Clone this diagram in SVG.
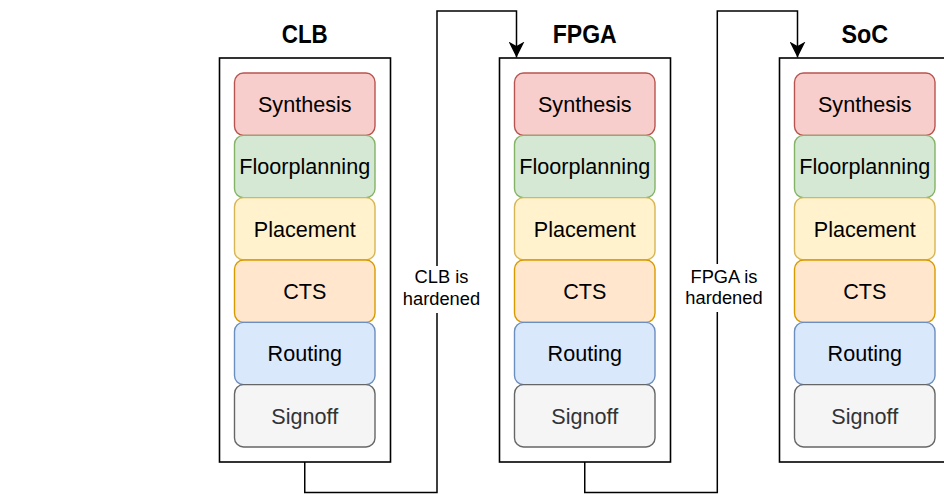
<svg xmlns="http://www.w3.org/2000/svg" width="944" height="494" viewBox="0 0 944 494">
  <style>
    .frame { fill: #ffffff; stroke: #000000; stroke-width: 1.6; }
    .title { font-family: "Liberation Sans", Arial, sans-serif; font-size: 25px; font-weight: bold; fill: #000000; text-anchor: middle; }
    .step { stroke-width: 1.4; }
    .lbl { font-family: "Liberation Sans", Arial, sans-serif; font-size: 21.6px; fill: #000000; text-anchor: middle; }
    .syn { fill: #f8cecc; stroke: #b85450; }
    .flp { fill: #d5e8d4; stroke: #82b366; }
    .plc { fill: #fff2cc; stroke: #d6b656; }
    .cts { fill: #ffe6cc; stroke: #d79b00; }
    .rte { fill: #dae8fc; stroke: #6c8ebf; }
    .sgn { fill: #f5f5f5; stroke: #666666; }
    .sgn-t { fill: #333333; }
    .wire { fill: none; stroke: #000000; stroke-width: 1.5; }
    .note-bg { fill: #ffffff; }
    .note { font-family: "Liberation Sans", Arial, sans-serif; font-size: 18.3px; fill: #000000; text-anchor: middle; }
  </style>
  <defs>
    <marker id="arrow" viewBox="0 0 16 16" refX="16" refY="8" markerWidth="16" markerHeight="16" markerUnits="userSpaceOnUse" orient="auto">
      <path d="M0,0 L16,8 L0,16 L4.5,8 Z" fill="#000000"/>
    </marker>
    <!-- one flow column: frame plus the six implementation steps -->
    <g id="flow-steps">
      <rect class="frame" x="219.5" y="58" width="171" height="404"/>
      <rect class="step syn" x="234.5" y="73" width="140.5" height="62.33" rx="9"/>
      <rect class="step flp" x="234.5" y="135.33" width="140.5" height="62.33" rx="9"/>
      <rect class="step plc" x="234.5" y="197.67" width="140.5" height="62.33" rx="9"/>
      <rect class="step cts" x="234.5" y="260" width="140.5" height="62.33" rx="9"/>
      <rect class="step rte" x="234.5" y="322.33" width="140.5" height="62.33" rx="9"/>
      <rect class="step sgn" x="234.5" y="384.67" width="140.5" height="62.33" rx="9"/>
      <text class="lbl" x="304.75" y="111.8">Synthesis</text>
      <text class="lbl" x="304.75" y="174.1">Floorplanning</text>
      <text class="lbl" x="304.75" y="236.5">Placement</text>
      <text class="lbl" x="304.75" y="298.8">CTS</text>
      <text class="lbl" x="304.75" y="361.1">Routing</text>
      <text class="lbl sgn-t" x="304.75" y="423.5">Signoff</text>
    </g>
  </defs>

  <!-- connectors -->
  <g id="connectors">
    <path class="wire" d="M304.75,462 V492.5 H437 V11 H516.5 V57.5" marker-end="url(#arrow)"/>
    <rect class="note-bg" x="402" y="266" width="80" height="47"/>
    <text class="note" x="441.5" y="283">CLB is</text>
    <text class="note" x="441.5" y="305">hardened</text>

    <path class="wire" d="M584.75,462 V492.5 H717.3 V11 H797.5 V57.5" marker-end="url(#arrow)"/>
    <rect class="note-bg" x="684" y="264" width="80" height="48"/>
    <text class="note" x="724" y="282.7">FPGA is</text>
    <text class="note" x="724" y="304">hardened</text>
  </g>

  <g id="clb">
    <text class="title" x="304.75" y="43.3" textLength="46" lengthAdjust="spacingAndGlyphs">CLB</text>
    <use href="#flow-steps"/>
  </g>

  <g id="fpga">
    <text class="title" x="584.75" y="43.3" textLength="64" lengthAdjust="spacingAndGlyphs">FPGA</text>
    <use href="#flow-steps" x="280"/>
  </g>

  <g id="soc">
    <text class="title" x="864.75" y="43.3" textLength="46.7" lengthAdjust="spacingAndGlyphs">SoC</text>
    <use href="#flow-steps" x="560"/>
  </g>
</svg>
